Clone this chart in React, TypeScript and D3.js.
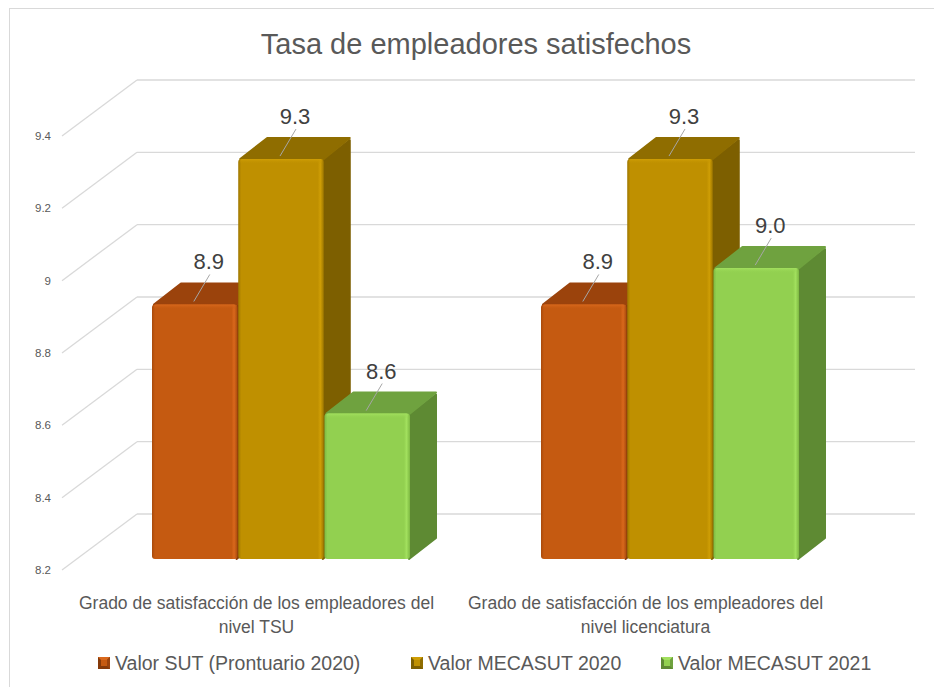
import React from "react";
import * as d3 from "d3";

const categories = [
  "Grado de satisfacción de los empleadores del nivel TSU",
  "Grado de satisfacción de los empleadores del nivel licenciatura",
];
const categoryLines = [
  ["Grado de satisfacción de los empleadores del", "nivel TSU"],
  ["Grado de satisfacción de los empleadores del", "nivel licenciatura"],
];
const seriesNames = ["Valor SUT (Prontuario 2020)", "Valor MECASUT 2020", "Valor MECASUT 2021"];
const sutValues = [8.9, 8.9];
const mecasut2020Values = [9.3, 9.3];
const mecasut2021Values = [8.6, 9.0];
const yTicks = [8.2, 8.4, 8.6, 8.8, 9, 9.2, 9.4];
const titleText = "Tasa de empleadores satisfechos";

const seriesValues = [sutValues, mecasut2020Values, mecasut2021Values];

const palette = [
  { front: "#C55A11", light: "#D9681C", dark: "#A84A0C", top: "#9B430C", side: "#853A0A" },
  { front: "#BF9000", light: "#CF9E05", dark: "#9E7700", top: "#8F6D00", side: "#7D5F00" },
  { front: "#92D050", light: "#A2E05E", dark: "#7DB842", top: "#6FA23F", side: "#5E8A33" },
];

const FONT = "'Liberation Sans', Arial, sans-serif";

export default function App() {
  const W = 934;
  const H = 687;
  // front plane of the floor / side wall
  const floorX0 = 62;
  const floorX1 = 840;
  const backDX = 75;
  const backDY = -56;
  const yFront = d3.scaleLinear().domain([8.2, 9.4]).range([570, 136]);
  // plane at which the bar fronts sit
  const yBar = d3.scaleLinear().domain([8.2, 9.4]).range([559, 559 - 1.2 * 363.6]);
  const barDX = 27;
  const barDY = -21;

  const xCat = d3.scaleBand<string>().domain(categories).range([floorX0, floorX1]);
  const groupOffset = 90;
  const groupWidth = 258;
  const xSeries = d3.scaleBand<string>().domain(seriesNames).range([0, groupWidth]).paddingInner(0.008);

  const bars: any[] = [];
  categories.forEach((c, ci) => {
    seriesNames.forEach((s, si) => {
      const v = seriesValues[si][ci];
      const x0 = (xCat(c) as number) + groupOffset + (xSeries(s) as number);
      const w = xSeries.bandwidth();
      const x1 = x0 + w;
      const top = yBar(v);
      const bottom = yBar(8.2);
      bars.push({ c, ci, s, si, v, x0, x1, w, top, bottom });
    });
  });

  const legendX = [98, 411, 661];

  return (
    <svg
      width={W}
      height={H}
      style={{ position: "absolute", left: 0, top: 0, background: "#fff" }}
      fontFamily={FONT}
    >
      <defs>
        {palette.map((p, i) => (
          <linearGradient key={i} id={`fg${i}`} x1="0" x2="1" y1="0" y2="0">
            <stop offset="0" stopColor={p.dark} />
            <stop offset="0.035" stopColor={p.front} />
            <stop offset="0.93" stopColor={p.front} />
            <stop offset="0.96" stopColor={p.light} />
            <stop offset="1" stopColor={p.dark} />
          </linearGradient>
        ))}
        {palette.map((p, i) => (
          <linearGradient key={`t${i}`} id={`tg${i}`} x1="0" x2="0" y1="0" y2="1">
            <stop offset="0" stopColor={p.light} />
            <stop offset="1" stopColor={p.front} stopOpacity="0" />
          </linearGradient>
        ))}
      </defs>
      <rect x={0} y={0} width={W} height={H} fill="#fff" />
      <rect x={9.5} y={8.5} width={940} height={700} fill="none" stroke="#d9d9d9" strokeWidth={1} />

      <text x={476} y={54} textAnchor="middle" fontSize={29} fill="#595959">
        {titleText}
      </text>

      {/* grid: side wall diagonals + back wall horizontals */}
      {yTicks.map((t) => (
        <g key={t}>
          <line
            x1={floorX0}
            y1={yFront(t)}
            x2={floorX0 + backDX}
            y2={yFront(t) + backDY}
            stroke="#d9d9d9"
            strokeWidth={1.3}
          />
          <line
            x1={floorX0 + backDX}
            y1={yFront(t) + backDY}
            x2={floorX1 + backDX}
            y2={yFront(t) + backDY}
            stroke="#d9d9d9"
            strokeWidth={1.3}
          />
          <text
            x={51}
            y={yFront(t) + 4}
            textAnchor="end"
            fontSize={11.5}
            fill="#595959"
          >
            {String(t)}
          </text>
        </g>
      ))}

      {/* bars */}
      {bars.map((b, i) => {
        const p = palette[b.si];
        const side = [
          [b.x1 - 1, b.top + 2],
          [b.x1 - 1 + barDX, b.top + barDY + 2],
          [b.x1 - 1 + barDX, b.bottom + barDY],
          [b.x1 - 1, b.bottom],
        ];
        const topF = [
          [b.x0 + 2, b.top],
          [b.x0 + 2 + barDX, b.top + barDY],
          [b.x1 + barDX - 1, b.top + barDY],
          [b.x1, b.top],
        ];
        const pts = (a: number[][]) => a.map((q) => q.join(",")).join(" ");
        return (
          <g key={i}>
            <polygon points={pts(side)} fill={p.side} stroke={p.side} strokeWidth={2} strokeLinejoin="round" />
            <polygon points={pts(topF)} fill={p.top} stroke={p.top} strokeWidth={2} strokeLinejoin="round" />
            <rect x={b.x0} y={b.top} width={b.w} height={b.bottom - b.top} rx={3} fill={`url(#fg${b.si})`} />
            <rect x={b.x0 + 2} y={b.top} width={b.w - 4} height={5} rx={2} fill={`url(#tg${b.si})`} />
          </g>
        );
      })}

      {/* data labels */}
      {bars.map((b, i) => {
        const cx = (b.x0 + b.x1) / 2;
        const lx = cx + 14;
        const ly = b.top - 43;
        return (
          <g key={`l${i}`}>
            <line x1={lx + 1} y1={ly + 13} x2={cx - 1} y2={b.top - 3} stroke="#a6a6a6" strokeWidth={1} />
            <text x={lx} y={ly + 8} textAnchor="middle" fontSize={22} fill="#404040">
              {d3.format(".1f")(b.v)}
            </text>
          </g>
        );
      })}

      {/* category labels */}
      {categories.map((c, ci) => {
        const cx = (xCat(c) as number) + xCat.bandwidth() / 2;
        return (
          <text key={c} textAnchor="middle" fontSize={17.5} fill="#595959">
            {categoryLines[ci].map((ln, li) => (
              <tspan key={li} x={cx} y={609 + li * 24}>
                {ln}
              </tspan>
            ))}
          </text>
        );
      })}

      {/* legend */}
      {seriesNames.map((s, si) => {
        const p = palette[si];
        const x = legendX[si];
        const y = 657;
        const sz = 12;
        return (
          <g key={s}>
            <rect x={x} y={y} width={sz} height={sz} fill={p.side} />
            <polygon points={`${x},${y} ${x + sz},${y} ${x + sz - 3},${y + 3} ${x + 3},${y + 3}`} fill={p.light} />
            <polygon points={`${x + sz},${y} ${x + sz},${y + sz} ${x + sz - 3},${y + sz - 3} ${x + sz - 3},${y + 3}`} fill={p.top} />
            <rect x={x + 3} y={y + 3} width={sz - 6} height={sz - 6} fill={p.front} />
            <text x={x + 17} y={y + 13} fontSize={19.5} fill="#595959">
              {s}
            </text>
          </g>
        );
      })}
    </svg>
  );
}
